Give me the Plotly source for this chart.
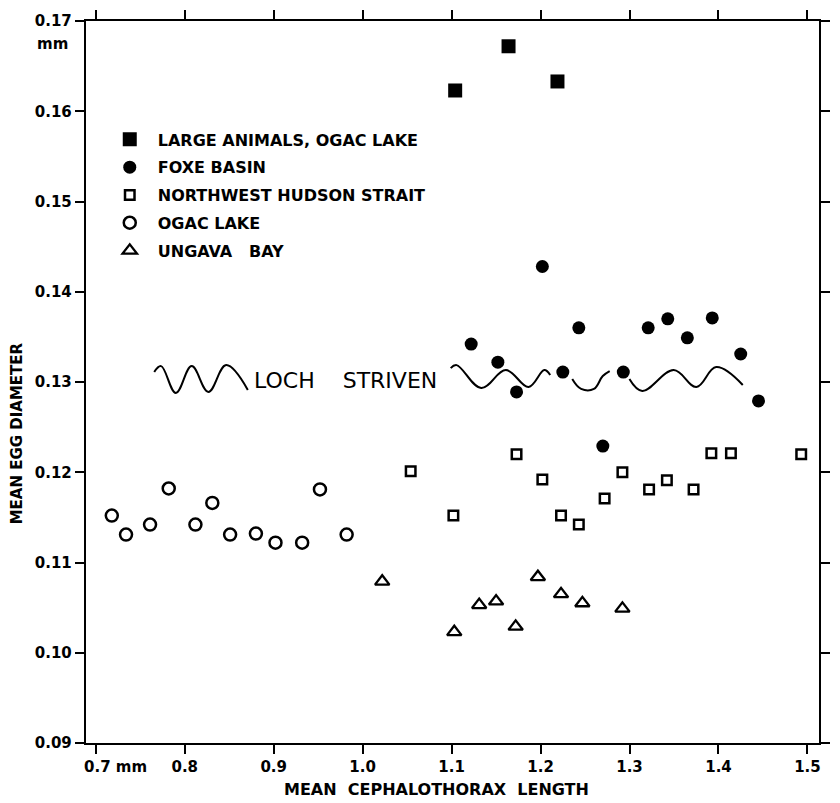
import plotly.graph_objects as go

# Mean cephalothorax length (mm) and mean egg diameter (mm) by locality
large_x = [1.104, 1.164, 1.219]
large_y = [0.1623, 0.1672, 0.1633]

foxe_x = [1.122, 1.152, 1.173, 1.202, 1.225, 1.243, 1.270, 1.293, 1.321, 1.343, 1.365, 1.393, 1.425, 1.445]
foxe_y = [0.1342, 0.1322, 0.1289, 0.1428, 0.1311, 0.1360, 0.1229, 0.1311, 0.1360, 0.1370, 0.1349, 0.1371, 0.1331, 0.1279]

nhs_x = [1.054, 1.102, 1.173, 1.202, 1.223, 1.243, 1.272, 1.292, 1.322, 1.342, 1.372, 1.392, 1.414, 1.493]
nhs_y = [0.1201, 0.1152, 0.1220, 0.1192, 0.1152, 0.1142, 0.1171, 0.1200, 0.1181, 0.1191, 0.1181, 0.1221, 0.1221, 0.1220]

ogac_x = [0.718, 0.734, 0.761, 0.782, 0.812, 0.831, 0.851, 0.880, 0.902, 0.932, 0.952, 0.982]
ogac_y = [0.1152, 0.1131, 0.1142, 0.1182, 0.1142, 0.1166, 0.1131, 0.1132, 0.1122, 0.1122, 0.1181, 0.1131]

ungava_x = [1.022, 1.103, 1.131, 1.150, 1.172, 1.197, 1.223, 1.247, 1.292]
ungava_y = [0.1079, 0.1023, 0.1053, 0.1057, 0.1029, 0.1084, 0.1065, 0.1055, 0.1049]

series_names = [
    "LARGE ANIMALS, OGAC LAKE",
    "FOXE BASIN",
    "NORTHWEST HUDSON STRAIT",
    "OGAC LAKE",
    "UNGAVA\u00a0\u00a0\u00a0BAY",
]

x_ticks = [0.7, 0.8, 0.9, 1.0, 1.1, 1.2, 1.3, 1.4, 1.5]
x_ticktext = ["", "0.8", "0.9", "1.0", "1.1", "1.2", "1.3", "1.4", "1.5"]
y_ticks = [0.09, 0.10, 0.11, 0.12, 0.13, 0.14, 0.15, 0.16, 0.17]
y_ticktext = ["0.09", "0.10", "0.11", "0.12", "0.13", "0.14", "0.15", "0.16", "0.17"]

# Hand-drawn wavy band marking the Loch Striven level (decoration)
loch_left_x = [0.7657, 0.7734, 0.7900, 0.8078, 0.8266, 0.8465, 0.8709]
loch_left_y = [0.13110, 0.13176, 0.12879, 0.13176, 0.12890, 0.13187, 0.12912]
loch_a_x = [1.0990, 1.1056, 1.1333, 1.1610, 1.1865, 1.2042, 1.2108]
loch_a_y = [0.13154, 0.13187, 0.12934, 0.13132, 0.12945, 0.13132, 0.13077]
loch_b_x = [1.2356, 1.2456, 1.2600, 1.2699, 1.2777]
loch_b_y = [0.13033, 0.12923, 0.12923, 0.13066, 0.13121]
loch_c_x = [1.2999, 1.3143, 1.3497, 1.3752, 1.3974, 1.4273]
loch_c_y = [0.13033, 0.12901, 0.13132, 0.12945, 0.13165, 0.12967]

FONT = "DejaVu Sans"
INK = "black"


def lettering(size, weight="bold"):
    return dict(family=FONT, size=size, color=INK, weight=weight)


fig = go.Figure()

marker_styles = [
    dict(symbol="square", size=14, color=INK, line=dict(width=0)),
    dict(symbol="circle", size=13, color=INK, line=dict(width=0)),
    dict(symbol="square-open", size=9.5, color=INK, line=dict(width=2.5, color=INK)),
    dict(symbol="circle-open", size=12, color=INK, line=dict(width=2.5, color=INK)),
    dict(symbol="triangle-up-open", size=12.5, color=INK, line=dict(width=2.3, color=INK)),
]
series_xy = [(large_x, large_y), (foxe_x, foxe_y), (nhs_x, nhs_y), (ogac_x, ogac_y), (ungava_x, ungava_y)]

for i, ((xs, ys), name, mk) in enumerate(zip(series_xy, series_names, marker_styles)):
    fig.add_trace(go.Scatter(
        x=xs, y=ys, mode="markers", name=name, marker=mk,
        legendgroup=f"g{i}", hoverinfo="x+y",
    ))

for wx, wy in [(loch_left_x, loch_left_y), (loch_a_x, loch_a_y), (loch_b_x, loch_b_y), (loch_c_x, loch_c_y)]:
    fig.add_trace(go.Scatter(
        x=wx, y=wy, mode="lines", showlegend=False, hoverinfo="skip",
        line=dict(color=INK, width=2, shape="spline", smoothing=1.1),
    ))

axis_common = dict(
    showline=True, linecolor=INK, linewidth=2.4, mirror="ticks",
    ticks="outside", ticklen=9, tickwidth=2, tickcolor=INK,
    showgrid=False, zeroline=False,
    tickfont=lettering(15),
)

fig.update_xaxes(range=[0.689, 1.513], tickmode="array", tickvals=x_ticks,
                 ticktext=x_ticktext, **axis_common)
fig.update_yaxes(range=[0.09, 0.17], tickmode="array", tickvals=y_ticks,
                 ticktext=y_ticktext, **axis_common)

annotations = [
    dict(text="0.7 mm", x=0.7, xref="x", xanchor="left", xshift=-14,
         y=-0.033, yref="paper", yanchor="middle", showarrow=False,
         font=lettering(15)),
    dict(text="mm", x=-0.0215, xref="paper", xanchor="right",
         y=0.968, yref="paper", yanchor="middle", showarrow=False,
         font=lettering(15)),
    dict(text="MEAN\u00a0\u00a0CEPHALOTHORAX\u00a0\u00a0LENGTH", x=0.478, xref="paper",
         xanchor="center", y=-0.0647, yref="paper", yanchor="middle", showarrow=False,
         font=lettering(16)),
    dict(text="MEAN EGG DIAMETER", x=-0.094, xref="paper",
         xanchor="center", y=0.429, yref="paper", yanchor="middle", textangle=-90,
         showarrow=False, font=lettering(15)),
    dict(text="LOCH\u00a0\u00a0\u00a0\u00a0STRIVEN", x=0.9805, xref="x", xanchor="center",
         y=0.13022, yref="y", yanchor="middle", showarrow=False,
         font=lettering(22, "normal")),
]

fig.update_layout(
    width=840, height=803,
    margin=dict(l=86, r=10, t=16, b=60),
    paper_bgcolor="white", plot_bgcolor="white",
    font=lettering(15),
    annotations=annotations,
    showlegend=True,
    legend=dict(
        x=0.0215, y=0.8595, xanchor="left", yanchor="top",
        bgcolor="rgba(0,0,0,0)", borderwidth=0,
        font=lettering(16),
        itemwidth=46, traceorder="grouped", tracegroupgap=4,
    ),
)

fig.write_html("out.html")
